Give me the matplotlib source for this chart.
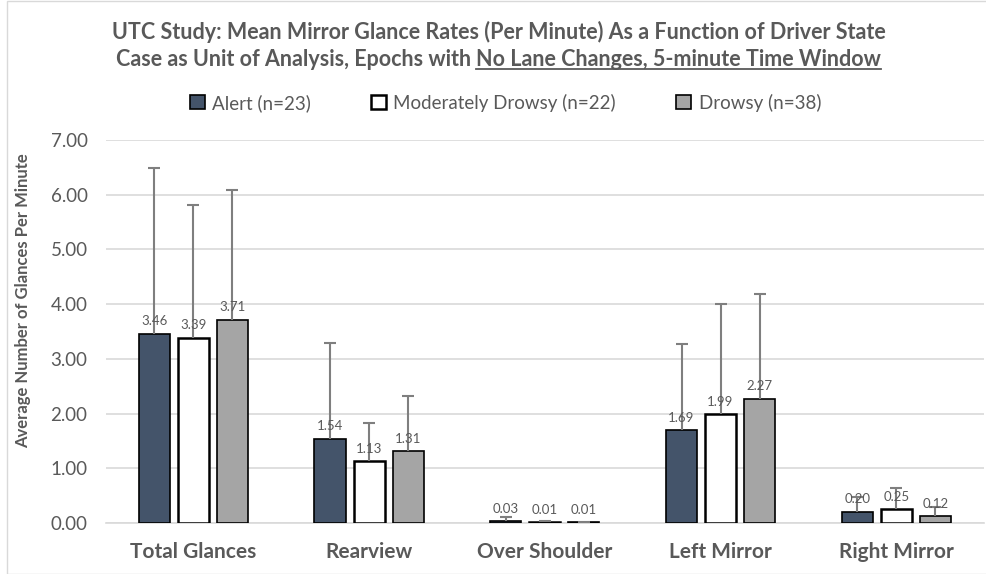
import numpy as np
import matplotlib
matplotlib.use('Agg')
import matplotlib.pyplot as plt
from matplotlib.patches import Rectangle

plt.rcParams['font.family'] = ['Lato', 'DejaVu Sans']

categories = ['Total Glances', 'Rearview', 'Over Shoulder', 'Left Mirror', 'Right Mirror']
series = ['Alert (n=23)', 'Moderately Drowsy (n=22)', 'Drowsy (n=38)']
alert = [3.46, 1.54, 0.03, 1.69, 0.20]
moderate = [3.39, 1.13, 0.01, 1.99, 0.25]
drowsy = [3.71, 1.31, 0.01, 2.27, 0.12]
# upper error (std dev) read from the cap positions
alert_err = [3.03, 1.75, 0.08, 1.58, 0.28]
moderate_err = [2.42, 0.70, 0.02, 2.02, 0.39]
drowsy_err = [2.38, 1.01, 0.01, 1.92, 0.17]
yticks = [0, 1, 2, 3, 4, 5, 6, 7]

values = [alert, moderate, drowsy]
errors = [alert_err, moderate_err, drowsy_err]
colors = ['#44546a', '#ffffff', '#a5a5a5']
edge_w = [1.2, 1.8, 1.2]

txt = '#595959'

fig = plt.figure(figsize=(9.87, 5.74), dpi=100)
ax = fig.add_axes([0.107, 0.089, 0.890, 0.667])

x = np.arange(len(categories))
width = 0.178
step = 0.222
for i, (vals, errs) in enumerate(zip(values, errors)):
    pos = x + (i - 1) * step
    vals = np.array(vals)
    tops = vals + np.array(errs)
    ax.bar(pos, vals, width, color=colors[i], edgecolor='black',
           linewidth=edge_w[i], label=series[i], zorder=3)
    # plus-only error bars
    ax.vlines(pos, vals, tops, color='#7f7f7f', linewidth=1.5, zorder=4)
    ax.plot(pos, tops, linestyle='none', marker='_', markersize=8,
            markeredgewidth=1.5, color='#7f7f7f', zorder=4)
    for p, v in zip(pos, vals):
        ax.text(p, v + 0.12, '%.2f' % v, ha='center', va='bottom',
                fontsize=9.5, color=txt, zorder=5)

ax.set_xlim(-0.5, len(categories) - 0.5)
ax.set_ylim(0, 7)
ax.set_yticks(yticks)
ax.set_yticklabels(['%.2f' % t for t in yticks], fontsize=13.5, color=txt)
ax.set_xticks(x)
ax.set_xticklabels(categories, fontsize=15, fontweight='bold', color=txt)
ax.tick_params(axis='both', length=0)
ax.tick_params(axis='x', pad=14)
ax.tick_params(axis='y', pad=13)
ax.yaxis.grid(True, color='#d9d9d9', linewidth=1.2, zorder=0)
for s in ['top', 'right', 'left']:
    ax.spines[s].set_visible(False)
ax.spines['bottom'].set_color('#d9d9d9')
ax.spines['bottom'].set_linewidth(1.2)

ax.set_ylabel('Average Number of Glances Per Minute', fontsize=12,
              fontweight='bold', color=txt, labelpad=8)
ax.yaxis.set_label_coords(-0.085, 0.58)

# title, second half of line 2 underlined
fs = 15.5
fig.text(0.505, 0.944, 'UTC Study: Mean Mirror Glance Rates (Per Minute) As a Function of Driver State',
         ha='center', va='center', fontsize=fs, fontweight='bold', color=txt)
left_part = 'Case as Unit of Analysis, Epochs with '
under_part = 'No Lane Changes, 5-minute Time Window'
ta = fig.text(0, 0.897, left_part, ha='left', va='center', fontsize=fs,
              fontweight='bold', color=txt)
tb = fig.text(0, 0.897, under_part, ha='left', va='center', fontsize=fs,
              fontweight='bold', color=txt)
fig.canvas.draw()
r = fig.canvas.get_renderer()
wa = ta.get_window_extent(r).width
wb = tb.get_window_extent(r).width
W = fig.bbox.width
x0 = (W - wa - wb) / 2 + 0.005 * W
ta.set_x(x0 / W)
tb.set_x((x0 + wa) / W)
bb = tb.get_window_extent(r)
fig.add_artist(plt.Line2D([(x0 + wa) / W, (x0 + wa + wb) / W],
                          [bb.y0 / fig.bbox.height + 0.001] * 2,
                          color=txt, linewidth=1.3))

leg = fig.legend(loc='center', bbox_to_anchor=(0.512, 0.821), ncol=3,
                 frameon=False, fontsize=13.5, handlelength=0.8, handleheight=0.8,
                 columnspacing=3.2, handletextpad=0.4)
for t in leg.get_texts():
    t.set_color(txt)

fig.add_artist(Rectangle((0.007, 0.0), 0.993, 0.999, transform=fig.transFigure,
                         fill=False, edgecolor='#d9d9d9', linewidth=1))

fig.savefig('out.png', dpi=100)
